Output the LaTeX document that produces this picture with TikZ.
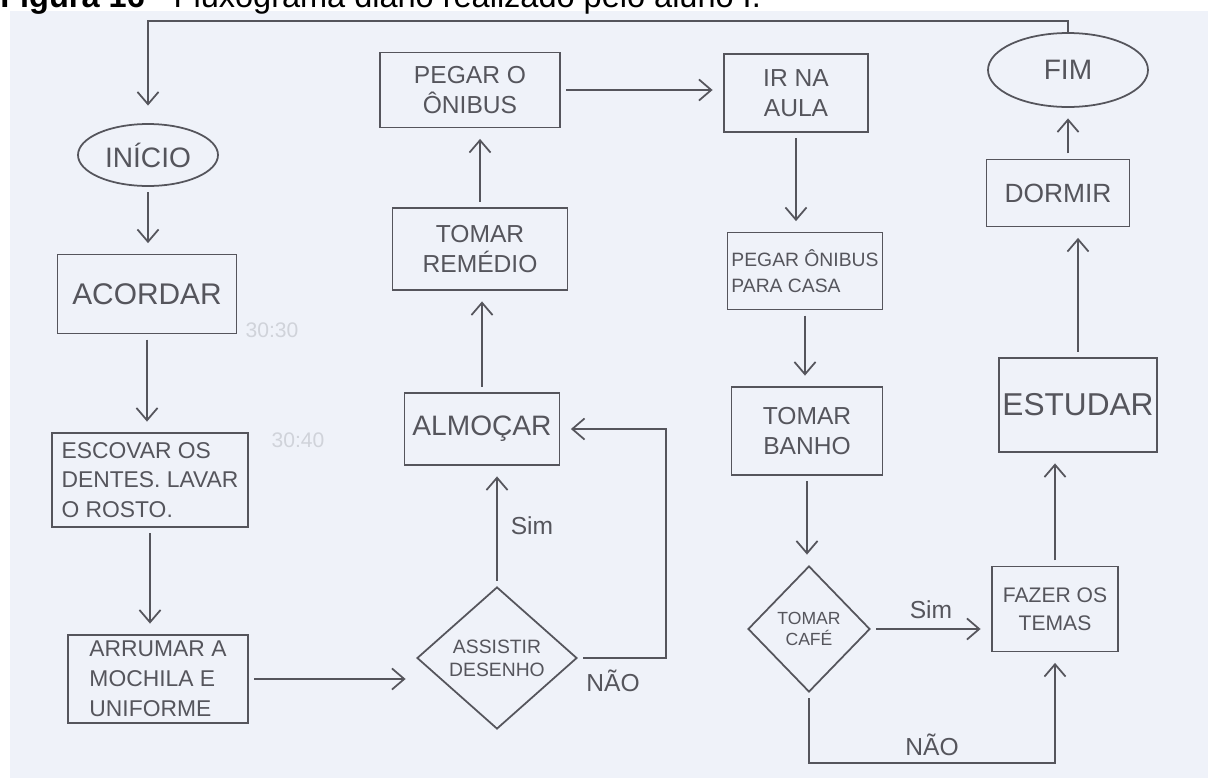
\documentclass[tikz,border=0pt]{standalone}
\usepackage{fontspec}
\setmainfont{Liberation Sans}
\usetikzlibrary{shapes.geometric,arrows.meta,positioning}
\definecolor{paper}{RGB}{239,242,249}
\definecolor{pencil}{RGB}{85,85,92}
\definecolor{faint}{RGB}{208,211,218}

\begin{document}
\begin{tikzpicture}[
    x=0.02cm, y=-0.02cm,
    box/.style={rectangle, draw=pencil, line width=1pt, text=pencil, inner sep=2pt, align=center, font=\fontsize{14}{17}\selectfont},
    terminal/.style={ellipse, draw=pencil, line width=1pt, text=pencil, inner sep=0pt, font=\fontsize{16}{19}\selectfont},
    decision/.style={diamond, draw=pencil, line width=1pt, text=pencil, inner sep=0pt, align=center, font=\fontsize{11}{13}\selectfont},
    arrow/.style={draw=pencil, line width=1pt, -{Straight Barb[length=7pt,width=12pt]}, shorten >=6pt, shorten <=3pt},
    label/.style={text=pencil, font=\fontsize{14}{17}\selectfont},
    note/.style={text=faint, font=\fontsize{12}{14}\selectfont}
]
    \clip (0,0) rectangle (1208,778);
    \fill[white] (0,0) rectangle (1208,778);
    \fill[paper] (10,11) rectangle (1208,778);

    % Caption (cut at the top of the scan)
    \node[anchor=base west, inner sep=0pt, font=\fontsize{18.5}{22}\selectfont] (titulo) at (0,7) {\textbf{Figura 16} - Fluxograma diário realizado pelo aluno I.};

    % Column 1
    \node[terminal, minimum width=2.8cm, minimum height=1.24cm] (inicio) at (148,155) {INÍCIO};
    \node[box, minimum width=3.58cm, minimum height=1.58cm, font=\fontsize{17}{20}\selectfont] (acordar) at (147,294) {ACORDAR};
    \node[box, minimum width=3.92cm, minimum height=1.88cm, align=left, font=\fontsize{13}{17}\selectfont] (escovar) at (150,480) {ESCOVAR OS\\DENTES. LAVAR\\O ROSTO.};
    \node[box, minimum width=3.6cm, minimum height=1.76cm, align=left, font=\fontsize{13}{17}\selectfont] (arrumar) at (158,679) {ARRUMAR A\\MOCHILA E\\UNIFORME};

    % Column 2
    \node[decision, minimum width=3.2cm, minimum height=2.84cm] (assistir) at (497,658) {ASSISTIR\\DESENHO};
    \node[box, minimum width=3.1cm, minimum height=1.44cm, font=\fontsize{16}{19}\selectfont] (almocar) at (482,429) {ALMOÇAR};
    \node[box, minimum width=3.5cm, minimum height=1.64cm] (remedio) at (480,249) {TOMAR\\REMÉDIO};
    \node[box, minimum width=3.6cm, minimum height=1.5cm] (onibus) at (470,90) {PEGAR O\\ÔNIBUS};

    % Column 3
    \node[box, minimum width=2.88cm, minimum height=1.56cm] (aula) at (796,93) {IR NA\\AULA};
    \node[box, minimum width=3.1cm, minimum height=1.54cm, align=left, font=\fontsize{11}{15}\selectfont] (casa) at (805,271) {PEGAR ÔNIBUS\\PARA CASA};
    \node[box, minimum width=3.02cm, minimum height=1.76cm] (banho) at (807,431) {TOMAR\\BANHO};
    \node[decision, minimum width=2.44cm, minimum height=2.52cm, font=\fontsize{10}{12}\selectfont] (cafe) at (809,629) {TOMAR\\CAFÉ};

    % Column 4
    \node[terminal, minimum width=3.2cm, minimum height=1.48cm] (fim) at (1068,70) {FIM};
    \node[box, minimum width=2.86cm, minimum height=1.34cm, font=\fontsize{15}{18}\selectfont] (dormir) at (1058,193) {DORMIR};
    \node[box, minimum width=3.14cm, minimum height=1.88cm, font=\fontsize{18}{21}\selectfont] (estudar) at (1078,405) {ESTUDAR};
    \node[box, minimum width=2.52cm, minimum height=1.7cm, font=\fontsize{12}{16}\selectfont] (temas) at (1055,609) {FAZER OS\\TEMAS};

    % Faint pencil notes
    \node[note] (nota1) at (272,330) {30:30};
    \node[note] (nota2) at (298,440) {30:40};

    %--- Morning ---
    \draw[arrow] (inicio.south) -- (inicio.south |- acordar.north);
    \draw[arrow] (acordar.south) -- (acordar.south |- escovar.north);
    \draw[arrow] (escovar.south) -- (escovar.south |- arrumar.north);
    \draw[arrow] (arrumar.east) -- (arrumar.east -| assistir.west);
    \draw[arrow] (assistir.north) -- node[label, right, xshift=4pt] {Sim} (assistir.north |- almocar.south);
    \draw[arrow] (assistir.east) -- node[label, below, yshift=-3pt, pos=0.4] {NÃO} ++(88,0) |- (almocar.east);
    \draw[arrow] (almocar.north) -- (almocar.north |- remedio.south);
    \draw[arrow] (remedio.north) -- (remedio.north |- onibus.south);

    %--- Afternoon ---
    \draw[arrow] (onibus.east) -- (onibus.east -| aula.west);
    \draw[arrow] (aula.south) -- (aula.south |- casa.north);
    \draw[arrow] (casa.south) -- (casa.south |- banho.north);
    \draw[arrow] (banho.south) -- (banho.south |- cafe.north);
    \draw[arrow] (cafe.east) -- node[label, above, yshift=2pt] {Sim} (cafe.east -| temas.west);
    \draw[arrow] (cafe.south) -- ++(0,70) -| node[label, above, pos=0.25] {NÃO} (temas.south);

    %--- Evening ---
    \draw[arrow] (temas.north) -- (temas.north |- estudar.south);
    \draw[arrow] (estudar.north) -- (estudar.north |- dormir.south);
    \draw[arrow] (fim.south |- dormir.north) -- (fim.south);
    \draw[arrow, shorten <=0pt, shorten >=10pt] (fim.north) -- ++(0,-11) -| (inicio.north);

\end{tikzpicture}
\end{document}
